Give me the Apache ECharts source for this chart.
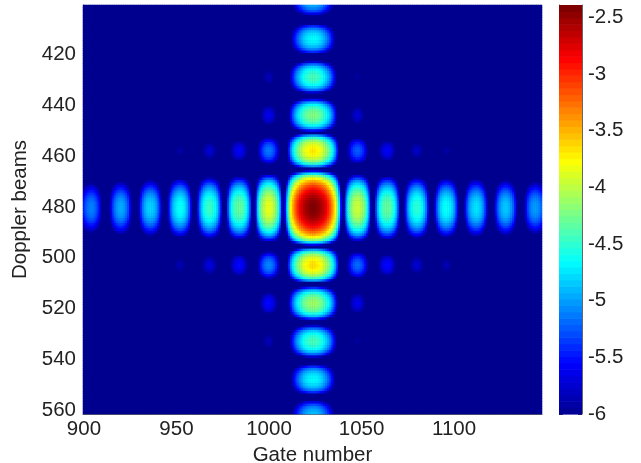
<!DOCTYPE html>
<html>
<head>
<meta charset="utf-8">
<style>html,body{margin:0;padding:0;background:#fff}#c{width:641px;height:463px}</style>
<script src="https://cdn.jsdelivr.net/npm/echarts@6/dist/echarts.min.js"></script>
</head>
<body>
<div id="c"></div>
<script>
const firstGate = 900;
const firstBeam = 401;
const peakValue = -2.42;
// level along the row through the main peak, one value per gate (900..1147)
const gateProfile = [
-5.44,-5.28,-5.18,-5.12,-5.1,-5.12,-5.18,-5.28,-5.44,-5.7,-6.1,-6.9,-8,
-6.75,-5.95,-5.55,-5.29,-5.13,-5.03,-4.97,-4.95,-4.97,-5.03,-5.13,-5.29,-5.55,-5.95,-6.75,-8,
-6.6,-5.8,-5.4,-5.14,-4.98,-4.88,-4.82,-4.8,-4.82,-4.88,-4.98,-5.14,-5.4,-5.8,-6.6,-7.8,
-6.42,-5.62,-5.22,-4.96,-4.8,-4.7,-4.64,-4.62,-4.64,-4.7,-4.8,-4.96,-5.22,-5.62,-6.42,-7.6,
-6.25,-5.45,-5.05,-4.79,-4.63,-4.53,-4.47,-4.45,-4.47,-4.53,-4.63,-4.79,-5.05,-5.45,-6.25,-7.4,
-6.1,-5.3,-4.9,-4.64,-4.48,-4.38,-4.32,-4.3,-4.32,-4.38,-4.48,-4.64,-4.9,-5.3,-6.1,-7.3,
-5.65,-4.85,-4.45,-4.19,-4.03,-3.93,-3.87,-3.85,-3.87,-3.93,-4.03,-4.19,-4.45,-4.85,-5.65,-6.85,
-5.5,-4.7,-4.15,-3.76,-3.49,-3.27,-3.08,-2.94,-2.81,-2.7,-2.61,-2.54,-2.49,-2.45,-2.43,-2.42,
-2.43,-2.45,-2.49,-2.54,-2.61,-2.7,-2.81,-2.94,-3.08,-3.27,-3.49,-3.76,-4.15,-4.7,-5.5,-6.5,
-5.75,-4.95,-4.55,-4.29,-4.13,-4.03,-3.97,-3.95,-3.97,-4.03,-4.13,-4.29,-4.55,-4.95,-5.75,-6.95,
-6.1,-5.3,-4.9,-4.64,-4.48,-4.38,-4.32,-4.3,-4.32,-4.38,-4.48,-4.64,-4.9,-5.3,-6.1,-7.3,
-6.3,-5.5,-5.1,-4.84,-4.68,-4.58,-4.52,-4.5,-4.52,-4.58,-4.68,-4.84,-5.1,-5.5,-6.3,-7.5,
-6.42,-5.62,-5.22,-4.96,-4.8,-4.7,-4.64,-4.62,-4.64,-4.7,-4.8,-4.96,-5.22,-5.62,-6.42,-7.6,
-6.55,-5.75,-5.35,-5.09,-4.93,-4.83,-4.77,-4.75,-4.77,-4.83,-4.93,-5.09,-5.35,-5.75,-6.55,-7.75,
-6.65,-5.85,-5.45,-5.19,-5.03,-4.93,-4.87,-4.85,-4.87,-4.93,-5.03,-5.19,-5.45,-5.85,-6.65,-7.85,
-6.8,-6,-5.6,-5.34,-5.18,-5.08,-5.02,-5,-5.02,-5.08,-5.18
];
// level along the column through the main peak, one value per beam (401..561)
const beamProfile = [
-4.95,-5.07,-5.27,-5.6,-6.15,-7.35,
-7.15,-5.95,-5.4,-5.07,-4.87,-4.75,-4.68,-4.65,-4.68,-4.75,-4.87,-5.07,-5.4,-5.95,-7.15,
-6.9,-5.7,-5.15,-4.82,-4.62,-4.5,-4.43,-4.4,-4.43,-4.5,-4.62,-4.82,-5.15,-5.7,-6.9,
-6.7,-5.5,-4.95,-4.62,-4.42,-4.3,-4.23,-4.2,-4.23,-4.3,-4.42,-4.62,-4.95,-5.5,-6.7,
-5,-4.45,-4.12,-3.92,-3.8,-3.73,-3.7,-3.73,-3.8,-3.92,-4.12,-4.45,-5,-6.2,
-5.6,-4.72,-4.12,-3.74,-3.46,-3.24,-3.06,-2.91,-2.78,-2.67,-2.58,-2.51,-2.46,-2.43,-2.42,
-2.42,-2.43,-2.46,-2.51,-2.58,-2.67,-2.78,-2.91,-3.06,-3.24,-3.46,-3.74,-4.12,-4.72,-5.6,-6.5,
-4.95,-4.4,-4.07,-3.87,-3.75,-3.68,-3.65,-3.68,-3.75,-3.87,-4.07,-4.4,-4.95,-6.15,
-6.6,-5.4,-4.85,-4.52,-4.32,-4.2,-4.13,-4.1,-4.13,-4.2,-4.32,-4.52,-4.85,-5.4,-6.6,
-6.9,-5.7,-5.15,-4.82,-4.62,-4.5,-4.43,-4.4,-4.43,-4.5,-4.62,-4.82,-5.15,-5.7,-6.9,
-7.15,-5.95,-5.4,-5.07,-4.87,-4.75,-4.68,-4.65,-4.68,-4.75,-4.87,-5.07,-5.4,-5.95,-7.15,
-6.15,-5.6,-5.27,-5.07,-4.95,-4.88
];
const gateTicks = [900, 950, 1000, 1050, 1100];
const beamTicks = [420, 440, 460, 480, 500, 520, 540, 560];
const jetColors = ['#00008f','#0000ff','#0080ff','#00ffff','#80ff80','#ffff00','#ff8000','#ff0000','#800000'];
const colorMin = -6, colorMax = -2.39, colorLevels = 64;

const gates = gateProfile.map((_, i) => String(firstGate + i));
const beams = beamProfile.map((_, i) => String(firstBeam + i));
const cells = [];
gateProfile.forEach((g, i) => beamProfile.forEach((b, j) => {
  cells.push([i, j, Math.max(colorMin, g + b - peakValue)]);
}));
const step = (colorMax - colorMin) / colorLevels;
const barCells = [];
for (let k = 0; k < colorLevels; k++) barCells.push([colorMin + k * step, colorMin + (k + 1) * step, colorMin + (k + 0.5) * step]);

const font = '"Liberation Sans", Arial, sans-serif';
const ink = '#222';
const edge = '#666';
const isGateTick = (i) => gateTicks.includes(firstGate + i);
const isBeamTick = (i) => beamTicks.includes(firstBeam + i);

const chart = echarts.init(document.getElementById('c'), null, {renderer: 'canvas'});
chart.setOption({
  animation: false,
  backgroundColor: '#fff',
  grid: [
    {left: 83, top: 5, width: 459, height: 409, containLabel: false, outerBoundsMode: 'none',
     show: true, backgroundColor: '#00008f', borderWidth: 0},
    {left: 559, top: 5, width: 23, height: 409, containLabel: false, outerBoundsMode: 'none'}
  ],
  xAxis: [
    {type: 'category', gridIndex: 0, data: gates, position: 'bottom',
     axisLine: {lineStyle: {color: edge, width: 1}},
     axisTick: {show: true, inside: true, length: 5, alignWithLabel: true, interval: isGateTick, lineStyle: {color: '#333'}},
     axisLabel: {interval: isGateTick, color: ink, fontFamily: font, fontSize: 20.5, margin: 5},
     splitLine: {show: false},
     name: 'Gate number', nameLocation: 'middle', nameGap: 27,
     nameTextStyle: {color: ink, fontFamily: font, fontSize: 20.5}},
    {type: 'value', gridIndex: 1, min: 0, max: 1, show: false}
  ],
  yAxis: [
    {type: 'category', gridIndex: 0, data: beams, inverse: true,
     axisLine: {lineStyle: {color: edge, width: 1}},
     axisTick: {show: true, inside: true, length: 5, alignWithLabel: true, interval: isBeamTick, lineStyle: {color: '#333'}},
     axisLabel: {interval: isBeamTick, color: ink, fontFamily: font, fontSize: 20.5, margin: 7},
     splitLine: {show: false},
     name: 'Doppler beams', nameLocation: 'middle', nameGap: 47, nameRotate: 90,
     nameTextStyle: {color: ink, fontFamily: font, fontSize: 20.5}},
    {type: 'value', gridIndex: 1, position: 'right', min: colorMin, max: colorMax, interval: 0.5,
     axisLine: {show: true, onZero: false, lineStyle: {color: edge}},
     axisTick: {show: true, inside: true, length: 4, lineStyle: {color: '#333'}},
     axisLabel: {color: ink, fontFamily: font, fontSize: 20.5, margin: 6, showMaxLabel: false},
     splitLine: {show: false}},
    {type: 'value', gridIndex: 1, position: 'left', min: colorMin, max: colorMax, interval: 0.5,
     axisLine: {show: true, onZero: false, lineStyle: {color: edge}},
     axisTick: {show: true, inside: true, length: 4, lineStyle: {color: '#333'}},
     axisLabel: {show: false},
     splitLine: {show: false}}
  ],
  visualMap: {
    show: false, type: 'continuous', min: -6, max: -2.42, dimension: 2, seriesIndex: [0, 1],
    inRange: {color: jetColors}
  },
  series: [
    {type: 'heatmap', xAxisIndex: 0, yAxisIndex: 0, data: cells, progressive: 0, silent: true, z: 1},
    {type: 'custom', xAxisIndex: 1, yAxisIndex: 1, data: barCells, silent: true, z: 1,
     encode: {y: [0, 1]},
     renderItem: (params, api) => {
       const a = api.coord([0, api.value(1)]);
       const b = api.coord([1, api.value(0)]);
       return {type: 'rect', shape: {x: a[0], y: a[1], width: b[0] - a[0], height: b[1] - a[1] + 0.6},
               style: {fill: api.visual('color')}};
     }}
  ]
});
</script>
</body>
</html>
